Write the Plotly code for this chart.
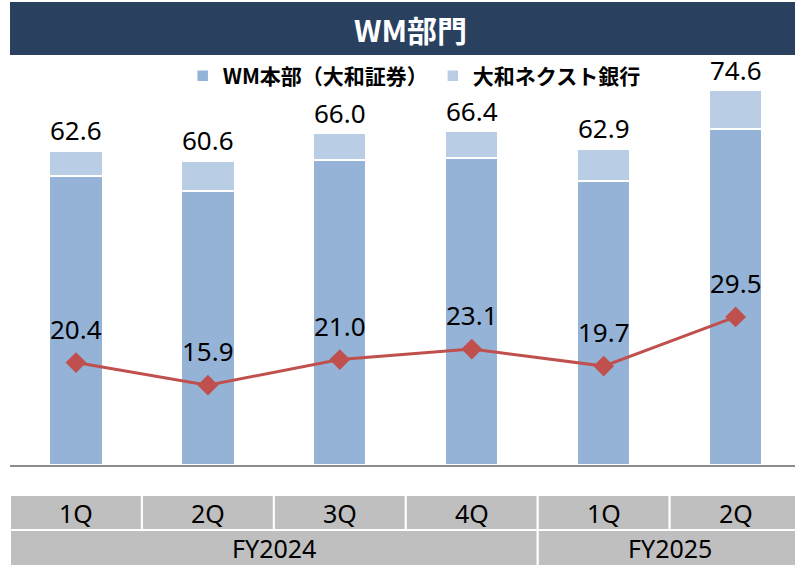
import plotly.graph_objects as go

# values
periods = ["FY2024 1Q", "FY2024 2Q", "FY2024 3Q", "FY2024 4Q", "FY2025 1Q", "FY2025 2Q"]
quarters = ["1Q", "2Q", "3Q", "4Q", "1Q", "2Q"]
fiscal_years = ["FY2024", "FY2025"]
fy_spans = [(0, 3), (4, 5)]
wm_honbu = [57.6, 54.6, 60.8, 61.2, 56.6, 66.9]
next_bank = [5.0, 6.0, 5.2, 5.2, 6.3, 7.7]
totals = [62.6, 60.6, 66.0, 66.4, 62.9, 74.6]
line_vals = [20.4, 15.9, 21.0, 23.1, 19.7, 29.5]

NUM_FONT = "Noto Sans"
JP_FONT = "Noto Sans CJK JP"
BOTTOM_PX, TOP_PX, H = 465, 60, 565


def py(y_px):
    """Pixel row -> paper y."""
    return (BOTTOM_PX - y_px) / (BOTTOM_PX - TOP_PX)


fig = go.Figure()
fig.add_trace(go.Bar(
    x=periods, y=wm_honbu, name="<b>WM本部（大和証券）</b>",
    marker=dict(color="#95B3D7", line=dict(color="white", width=1.5)),
    width=0.4,
))
fig.add_trace(go.Bar(
    x=periods, y=next_bank, name="<b>大和ネクスト銀行</b>",
    marker=dict(color="#B9CDE5", line=dict(color="white", width=1.5)),
    width=0.4,
))
fig.add_trace(go.Scatter(
    x=periods, y=line_vals, mode="lines+markers", showlegend=False,
    line=dict(color="#C0504D", width=3),
    marker=dict(symbol="diamond", size=16, color="#C0504D"),
))

annotations = []
for p, t in zip(periods, totals):
    annotations.append(dict(x=p, y=t, text=f"{t:.1f}", showarrow=False,
                            yanchor="middle", yshift=21,
                            font=dict(family=NUM_FONT, size=26, color="black")))
for p, v in zip(periods, line_vals):
    annotations.append(dict(x=p, y=v, text=f"{v:.1f}", showarrow=False,
                            yanchor="middle", yshift=34,
                            font=dict(family=NUM_FONT, size=26, color="black")))

shapes = [dict(type="rect", xref="paper", yref="paper", x0=0, x1=1,
               y0=py(55), y1=py(2), fillcolor="#29405F", line=dict(width=0),
               layer="below")]
annotations.append(dict(xref="paper", yref="paper", x=0.51, y=py(29),
                        text="<b>WM部門</b>", showarrow=False, yanchor="middle",
                        font=dict(family=JP_FONT, size=30, color="white")))

# category table under the axis
for i, q in enumerate(quarters):
    shapes.append(dict(type="rect", xref="x", yref="paper", x0=i - 0.5, x1=i + 0.5,
                       y0=py(530), y1=py(495), fillcolor="#BFBFBF",
                       line=dict(color="white", width=2)))
    annotations.append(dict(x=i, xref="x", yref="paper", y=py(513), text=q,
                            showarrow=False, yanchor="middle",
                            font=dict(family=NUM_FONT, size=25, color="black")))
for fy, (a, b) in zip(fiscal_years, fy_spans):
    shapes.append(dict(type="rect", xref="x", yref="paper", x0=a - 0.5, x1=b + 0.5,
                       y0=py(567), y1=py(530), fillcolor="#BFBFBF",
                       line=dict(color="white", width=2)))
    annotations.append(dict(x=(a + b) / 2, xref="x", yref="paper", y=py(548), text=fy,
                            showarrow=False, yanchor="middle",
                            font=dict(family=NUM_FONT, size=25, color="black")))

fig.update_layout(
    width=795, height=H,
    margin=dict(l=10, r=0, t=TOP_PX, b=H - BOTTOM_PX),
    barmode="stack",
    plot_bgcolor="white", paper_bgcolor="white",
    showlegend=True,
    legend=dict(orientation="h", x=0.22, y=py(76), xanchor="left", yanchor="middle",
                traceorder="normal", font=dict(family=JP_FONT, size=21, color="black"),
                itemwidth=30, bgcolor="rgba(0,0,0,0)"),
    xaxis=dict(range=[-0.5, 5.45], showticklabels=False, showgrid=False,
               showline=True, linecolor="#8C8C8C", linewidth=1.5, ticks=""),
    yaxis=dict(range=[0, (BOTTOM_PX - TOP_PX) / 5.02], visible=False, showgrid=False),
    shapes=shapes,
    annotations=annotations,
)

fig.write_html("out.html", config={"displayModeBar": False},
               post_script="document.body.style.margin='0';document.body.style.overflow='hidden';")
